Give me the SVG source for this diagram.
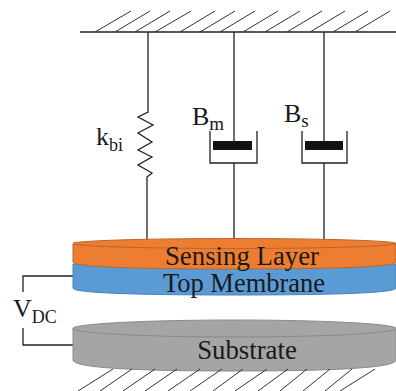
<svg xmlns="http://www.w3.org/2000/svg" width="396" height="391" viewBox="0 0 396 391">
<style>
.l{fill:none;stroke:#222;stroke-width:1.3}
.h{fill:none;stroke:#333;stroke-width:1}
text{font-family:"Liberation Serif",serif;fill:#1a1a1a}
.bd{fill:#111}
</style>
<rect width="396" height="391" fill="#fff"/>
<g id="top-ground">
<path class="l" d="M80 32H396"/>
<path class="h" d="M95 32L131 11M115 32L150 11M135 32L170 11M155 32L191 11M180 32L215 11M200 32L235 11M220 32L255 11M243 32L278 11M265 32L300 11M287 32L322 11M310 32L345 11M333 32L368 11M355 32L390 11"/>
</g>
<g id="connectors">
<path class="l" d="M148 32V112L138 117L153 125L138 133L152 142L138 150L152 157L138 165L152 173L147 177V240"/>
<path class="l" d="M234 32V141M234 163V240"/>
<path class="l" d="M324 32V141M324 163V240"/>
<path class="l" d="M73 276H23V292M23 328V345H73"/>
</g>
<g id="damper-m">
<path class="l" d="M210 131V163H257V131"/>
<rect class="bd" x="213" y="141" width="39" height="9"/>
</g>
<g id="damper-s">
<path class="l" d="M302 131V163H347V131"/>
<rect class="bd" x="305" y="141" width="38" height="9"/>
</g>
<g id="k-label"><text x="96" y="145" font-size="26">k<tspan font-size="18" dy="6">bi</tspan></text></g>
<g id="bm-label"><text x="192" y="125" font-size="26">B<tspan font-size="19" dy="5">m</tspan></text></g>
<g id="bs-label"><text x="284" y="122" font-size="26">B<tspan font-size="19" dy="5">s</tspan></text></g>
<g id="top-membrane">
<path d="M73 264V288Q73 295 235 295Q396 295 396 288V264Z" fill="#5b9bd5" stroke="#4a83b8"/>
<text x="244" y="292" font-size="26.500" text-anchor="middle" fill="#0c1f3a">Top Membrane</text>
</g>
<g id="sensing-layer">
<path d="M73 244V262Q73 269 235 269Q396 269 396 262V244Z" fill="#ed7d31" stroke="#b8662e"/>
<ellipse cx="234.500" cy="243.500" rx="161.500" ry="5" fill="#ed7d31" stroke="#b8662e"/>
<text x="242" y="265" font-size="26.800" text-anchor="middle" fill="#3a1c08">Sensing Layer</text>
</g>
<g id="substrate">
<path d="M73 328V360Q73 371 235 371Q396 371 396 360V328Z" fill="#a5a5a5" stroke="#8a8a8a"/>
<ellipse cx="234.500" cy="328.500" rx="161.500" ry="8.500" fill="#a5a5a5" stroke="#8a8a8a"/>
<text x="247" y="359" font-size="26.800" text-anchor="middle" fill="#262626">Substrate</text>
</g>
<g id="vdc-label"><text x="13" y="317" font-size="26">V<tspan font-size="18" dy="6">DC</tspan></text></g>
<g id="bottom-ground">
<path class="h" d="M78 391L113 369M100 391L132 369M123 391L155 369M145 391L177 369M168 391L200 369M190 391L222 369M213 391L243 369M235 391L267 369M258 391L288 369M280 391L307 369M303 391L330 369M325 391L352 369M340 391L375 369"/>
</g>
</svg>
